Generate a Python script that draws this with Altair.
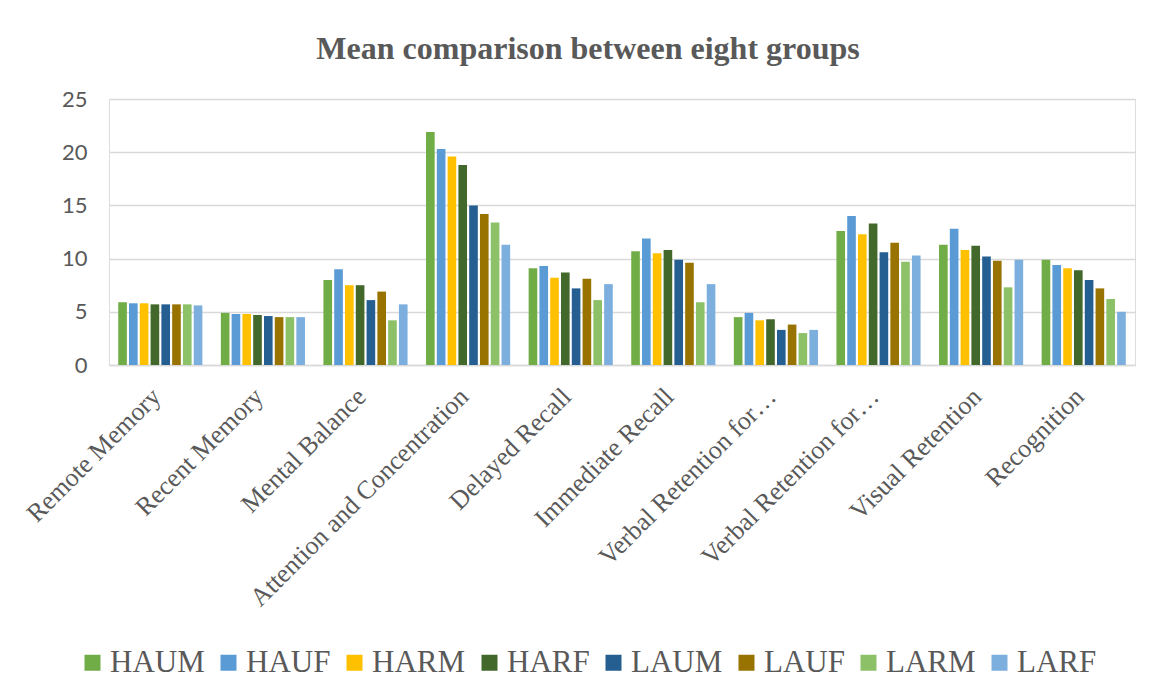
import json
import altair as alt
import pandas as pd

categories = [
    "Remote Memory", "Recent Memory", "Mental Balance", "Attention and Concentration",
    "Delayed Recall", "Immediate Recall", "Verbal Retention for\u2026",
    "Verbal Retention for\u2026", "Visual Retention", "Recognition",
]
series = ["HAUM", "HAUF", "HARM", "HARF", "LAUM", "LAUF", "LARM", "LARF"]
colors = ["#70AD47", "#5B9BD5", "#FFC000", "#43682B", "#255E91", "#997300", "#8CC168", "#7CAFDD"]

HAUM = [5.9, 4.9, 8.0, 21.9, 9.1, 10.7, 4.5, 12.6, 11.3, 9.9]
HAUF = [5.8, 4.8, 9.0, 20.3, 9.3, 11.9, 4.9, 14.0, 12.8, 9.4]
HARM = [5.8, 4.8, 7.5, 19.6, 8.2, 10.5, 4.2, 12.3, 10.8, 9.1]
HARF = [5.7, 4.7, 7.5, 18.8, 8.7, 10.8, 4.3, 13.3, 11.2, 8.9]
LAUM = [5.7, 4.6, 6.1, 15.0, 7.2, 9.9, 3.3, 10.6, 10.2, 8.0]
LAUF = [5.7, 4.5, 6.9, 14.2, 8.1, 9.6, 3.8, 11.5, 9.8, 7.2]
LARM = [5.7, 4.5, 4.2, 13.4, 6.1, 5.9, 3.0, 9.7, 7.3, 6.2]
LARF = [5.6, 4.5, 5.7, 11.3, 7.6, 7.6, 3.3, 10.3, 9.9, 5.0]

values = {"HAUM": HAUM, "HAUF": HAUF, "HARM": HARM, "HARF": HARF,
          "LAUM": LAUM, "LAUF": LAUF, "LARM": LARM, "LARF": LARF}

rows = []
for s in series:
    for i, v in enumerate(values[s]):
        rows.append({"idx": i, "series": s, "value": v})
df = pd.DataFrame(rows)

label_expr = json.dumps(categories) + "[datum.value]"
GRAY = "#595959"
GRID = "#D9D9D9"

chart = alt.Chart(df).mark_bar().encode(
    x=alt.X(
        "idx:O",
        scale=alt.Scale(paddingInner=0.18, paddingOuter=0.09),
        axis=alt.Axis(
            title=None, labelExpr=label_expr, labelAngle=-45, labelFont="Liberation Serif",
            labelFontSize=26, labelColor=GRAY, labelLimit=500, labelPadding=18, labelOffset=-13,
            ticks=False, domainColor=GRID, domainWidth=1.5,
        ),
    ),
    xOffset=alt.XOffset("series:N", sort=series, scale=alt.Scale(paddingInner=0.2, paddingOuter=0)),
    y=alt.Y(
        "value:Q",
        scale=alt.Scale(domain=[0, 25]),
        axis=alt.Axis(
            title=None, values=[0, 5, 10, 15, 20, 25], domain=False, ticks=False,
            labelFont="Lato", labelFontSize=22, labelColor=GRAY, labelPadding=22,
            gridColor=GRID, gridWidth=1.5,
        ),
    ),
    color=alt.Color(
        "series:N", sort=series,
        scale=alt.Scale(domain=series, range=colors),
        legend=alt.Legend(
            title=None, orient="none", direction="horizontal", legendX=-32, legendY=548,
            symbolType="square", symbolSize=256, symbolStrokeWidth=0, labelFont="Liberation Serif",
            labelFontSize=31, labelColor=GRAY, labelOffset=2, columnPadding=8, padding=0,
        ),
    ),
).properties(
    width=1026, height=266,
    title=alt.TitleParams(
        "Mean comparison between eight groups", font="Liberation Serif", fontSize=32,
        fontWeight="bold", color=GRAY, anchor="middle", offset=22, dx=-34,
    ),
    padding={"left": 21, "top": 33, "right": 5, "bottom": 5},
).configure_view(stroke=None).configure(background="white")

chart.save("out.html", embed_options={"renderer": "svg", "actions": False})
